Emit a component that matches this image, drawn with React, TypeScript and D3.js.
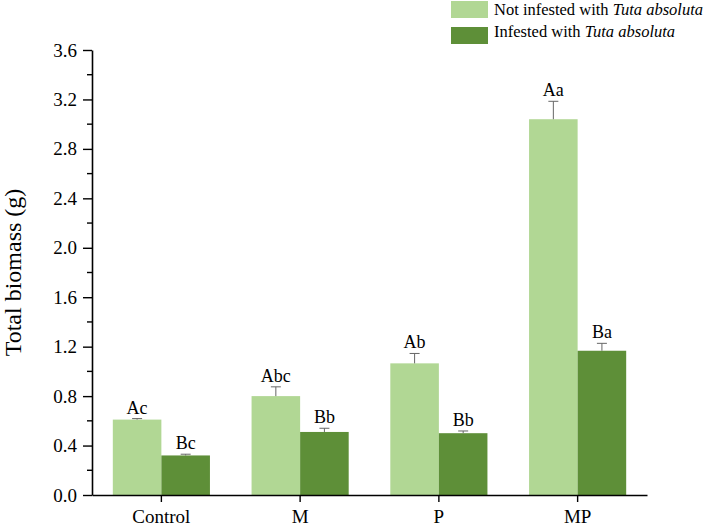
import React, { useEffect, useRef } from "react";
import * as d3 from "d3";

const categories = ["Control", "M", "P", "MP"];
const notInfested = [0.61, 0.8, 1.065, 3.04];
const notInfestedErr = [0.008, 0.075, 0.08, 0.145];
const infested = [0.32, 0.51, 0.5, 1.167];
const infestedErr = [0.01, 0.03, 0.018, 0.06];
const notInfestedLetters = ["Ac", "Abc", "Ab", "Aa"];
const infestedLetters = ["Bc", "Bb", "Bb", "Ba"];
const yTicks = [0, 0.4, 0.8, 1.2, 1.6, 2.0, 2.4, 2.8, 3.2, 3.6];
const yMinorTicks = [0.2, 0.6, 1.0, 1.4, 1.8, 2.2, 2.6, 3.0, 3.4];

const LIGHT = "#b1d794";
const DARK = "#5e8f38";
const FONT = "'Liberation Serif', 'Times New Roman', serif";

export default function App() {
  const ref = useRef<SVGSVGElement>(null);

  useEffect(() => {
    const width = 708,
      height = 527;
    const left = 92,
      right = 647,
      top = 50,
      bottom = 495;

    const svg = d3.select(ref.current);
    svg.selectAll("*").remove();
    svg.attr("width", width).attr("height", height);

    const x = d3.scaleBand().domain(categories).range([left, right]).padding(0);
    const y = d3.scaleLinear().domain([0, 3.6]).range([bottom, top]);
    const barW = x.bandwidth() * 0.35;

    const series = [
      { values: notInfested, errs: notInfestedErr, letters: notInfestedLetters, color: LIGHT, off: -barW },
      { values: infested, errs: infestedErr, letters: infestedLetters, color: DARK, off: 0 },
    ];

    series.forEach((s) => {
      const g = svg.append("g");
      categories.forEach((c, i) => {
        const cx = x(c)! + x.bandwidth() / 2 + s.off;
        const v = s.values[i];
        const e = s.errs[i];
        g.append("rect")
          .attr("x", cx)
          .attr("y", y(v))
          .attr("width", barW)
          .attr("height", y(0) - y(v))
          .attr("fill", s.color);
        const mx = cx + barW / 2;
        // upper error bar only
        g.append("line")
          .attr("x1", mx)
          .attr("x2", mx)
          .attr("y1", y(v))
          .attr("y2", y(v + e))
          .attr("stroke", "#666")
          .attr("stroke-width", 1);
        g.append("line")
          .attr("x1", mx - 5)
          .attr("x2", mx + 5)
          .attr("y1", y(v + e))
          .attr("y2", y(v + e))
          .attr("stroke", "#666")
          .attr("stroke-width", 1);
        g.append("text")
          .attr("x", mx)
          .attr("y", y(v + e) - 5)
          .attr("text-anchor", "middle")
          .style("font-family", FONT)
          .style("font-size", "18px")
          .text(s.letters[i]);
      });
    });

    // y axis
    const yAxis = svg
      .append("g")
      .attr("transform", `translate(${left},0)`)
      .call(
        d3
          .axisLeft(y)
          .tickValues(yTicks)
          .tickFormat(d3.format(".1f"))
          .tickSize(9)
          .tickPadding(6)
          .tickSizeOuter(0)
      );
    yAxis.select(".domain").attr("stroke-width", 1.6);
    yAxis.selectAll(".tick line").attr("stroke-width", 1.4);
    yAxis
      .selectAll("text")
      .style("font-family", FONT)
      .style("font-size", "19px")
      .attr("fill", "#000");

    svg
      .append("g")
      .selectAll("line")
      .data(yMinorTicks)
      .enter()
      .append("line")
      .attr("x1", left - 5)
      .attr("x2", left)
      .attr("y1", (d) => y(d))
      .attr("y2", (d) => y(d))
      .attr("stroke", "#000")
      .attr("stroke-width", 1.4);

    // x axis
    const xAxis = svg
      .append("g")
      .attr("transform", `translate(0,${bottom})`)
      .call(d3.axisBottom(x).tickSize(7).tickPadding(8).tickSizeOuter(0));
    xAxis.select(".domain").attr("stroke-width", 1.6);
    xAxis.selectAll(".tick line").attr("stroke-width", 1.4);
    xAxis
      .selectAll("text")
      .style("font-family", FONT)
      .style("font-size", "19px")
      .attr("fill", "#000");

    // y title
    svg
      .append("text")
      .attr("transform", `translate(21,${(top + bottom) / 2}) rotate(-90)`)
      .attr("text-anchor", "middle")
      .style("font-family", FONT)
      .style("font-size", "24px")
      .text("Total biomass (g)");

    // legend
    const legendItems = [
      { label: "Not infested with ", italic: "Tuta absoluta", color: LIGHT },
      { label: "Infested with ", italic: "Tuta absoluta", color: DARK },
    ];
    const lg = svg.append("g").attr("transform", "translate(451,0)");
    legendItems.forEach((d, i) => {
      lg.append("rect")
        .attr("x", 0)
        .attr("y", 1 + i * 26)
        .attr("width", 37)
        .attr("height", 17)
        .attr("fill", d.color);
      const t = lg
        .append("text")
        .attr("x", 43)
        .attr("y", 15 + i * 22)
        .style("font-family", FONT)
        .style("font-size", "16.5px");
      t.append("tspan").text(d.label);
      t.append("tspan").style("font-style", "italic").text(d.italic);
    });
  }, []);

  return (
    <div style={{ position: "absolute", left: 0, top: 0 }}>
      <svg ref={ref}></svg>
    </div>
  );
}
